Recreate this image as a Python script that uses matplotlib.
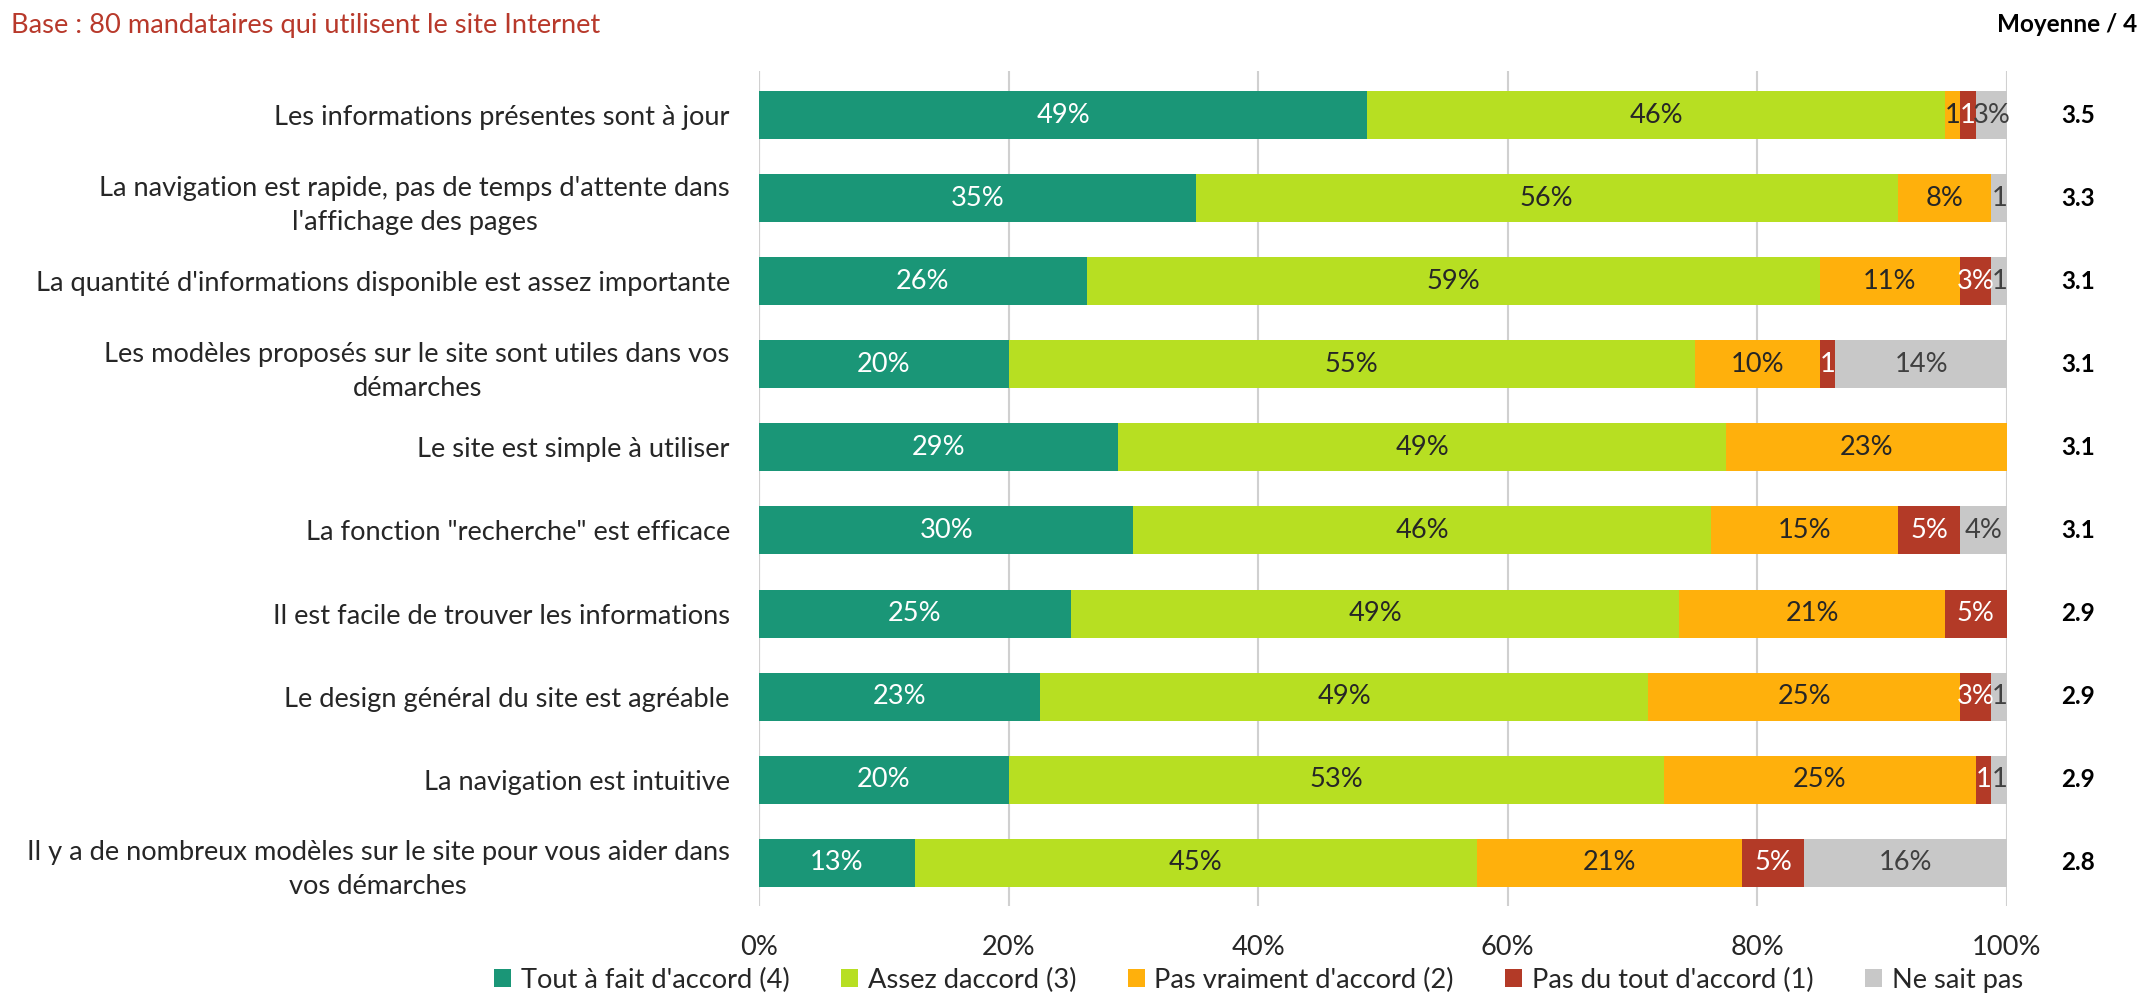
import matplotlib
matplotlib.use("Agg")
import matplotlib.pyplot as plt
from matplotlib.patches import Patch

plt.rcParams['font.family'] = ['Lato', 'DejaVu Sans']

categories = [
    "Les informations présentes sont à jour",
    "La navigation est rapide, pas de temps d'attente dans\nl'affichage des pages",
    "La quantité d'informations disponible est assez importante",
    "Les modèles proposés sur le site sont utiles dans vos\ndémarches",
    "Le site est simple à utiliser",
    "La fonction \"recherche\" est efficace",
    "Il est facile de trouver les informations",
    "Le design général du site est agréable",
    "La navigation est intuitive",
    "Il y a de nombreux modèles sur le site pour vous aider dans\nvos démarches",
]
tout_fait = [48.75, 35, 26.25, 20, 28.75, 30, 25, 22.5, 20, 12.5]
assez = [46.25, 56.25, 58.75, 55, 48.75, 46.25, 48.75, 48.75, 52.5, 45]
pas_vraiment = [1.25, 7.5, 11.25, 10, 22.5, 15, 21.25, 25, 25, 21.25]
pas_du_tout = [1.25, 0, 2.5, 1.25, 0, 5, 5, 2.5, 1.25, 5]
ne_sait_pas = [2.5, 1.25, 1.25, 13.75, 0, 3.75, 0, 1.25, 1.25, 16.25]
moyennes = ["3.5", "3.3", "3.1", "3.1", "3.1", "3.1", "2.9", "2.9", "2.9", "2.8"]
series_names = ["Tout à fait d'accord (4)", "Assez daccord (3)", "Pas vraiment d'accord (2)",
                "Pas du tout d'accord (1)", "Ne sait pas"]
x_ticks = [0, 20, 40, 60, 80, 100]
x_tick_labels = ["0%", "20%", "40%", "60%", "80%", "100%"]

series = [tout_fait, assez, pas_vraiment, pas_du_tout, ne_sait_pas]
colors = ["#1A9677", "#B7DF22", "#FFB00C", "#B33A27", "#C8C8C8"]
text_colors = ["white", "#262626", "#262626", "white", "#404040"]

FS = 19.6

fig = plt.figure(figsize=(21.44, 10.02), dpi=100)
ax = fig.add_axes([759 / 2144, 1 - 906 / 1002, 1248 / 2144, 835 / 1002])

y = list(range(len(categories)))
left = [0.0] * len(categories)
for vals, col, tcol in zip(series, colors, text_colors):
    ax.barh(y, vals, left=left, height=0.578, color=col, linewidth=0, zorder=2)
    for i, v in enumerate(vals):
        if v > 0:
            r = int(v + 0.5)
            lab = f"{r}%" if v >= 2 else f"{r}"
            ax.text(left[i] + v / 2, i, lab, ha='center', va='center',
                    color=tcol, fontsize=FS, zorder=3)
    left = [l + v for l, v in zip(left, vals)]

for i, m in enumerate(moyennes):
    ax.text(105.7, i, m, ha='center', va='center', fontsize=17.5,
            fontweight='bold', color='black', clip_on=False)

ax.set_xlim(0, 100)
ax.set_ylim(9.52, -0.53)
ax.set_xticks(x_ticks)
ax.set_xticklabels(x_tick_labels, fontsize=FS, color='#262626')
ax.set_yticks(y)
ax.set_yticklabels(categories, fontsize=FS, color='#262626', linespacing=1.45)
for t in ax.get_yticklabels():
    t.set_multialignment('center')
ax.tick_params(axis='y', length=0, pad=21)
ax.tick_params(axis='x', length=0, pad=21)
ax.grid(axis='x', color='#D0D0D0', linewidth=1.5, zorder=0)
for s in ax.spines.values():
    s.set_visible(False)
ax.axvline(0, color='#D0D0D0', linewidth=1.5, zorder=1)

fig.text(0.005, 1 - 25 / 1002, "Base : 80 mandataires qui utilisent le site Internet",
         ha='left', va='center', fontsize=FS, color='#B8392B')
fig.text(0.997, 1 - 25 / 1002, "Moyenne / 4", ha='right', va='center',
         fontsize=17.5, fontweight='bold', color='black')

handles = [Patch(facecolor=c, edgecolor='none') for c in colors]
fig.legend(handles, series_names, loc='center', bbox_to_anchor=(0.587, 1 - 980 / 1002),
           ncol=5, frameon=False, fontsize=FS, handlelength=0.62, handleheight=0.62,
           handletextpad=0.35, columnspacing=1.9, labelcolor='#262626')

fig.savefig("out.png", dpi=100)
